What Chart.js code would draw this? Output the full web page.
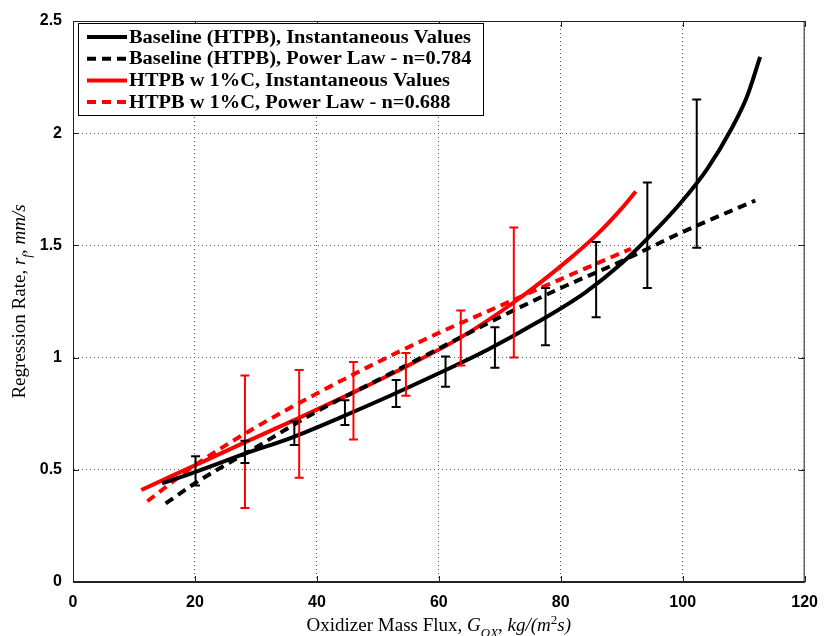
<!DOCTYPE html>
<html>
<head>
<meta charset="utf-8">
<script src="https://cdn.jsdelivr.net/npm/chart.js@4/dist/chart.umd.min.js"></script>
<style>
  html, body { margin: 0; padding: 0; background: #fff; }
  #wrap { width: 829px; height: 636px; position: relative; }
</style>
</head>
<body>
<div id="wrap"><canvas id="rateChart"></canvas></div>
<script>
'use strict';

/* Regression rate vs oxidizer mass flux. */

// baseline HTPB, instantaneous values (solid black)
const baseInstX = [14.6, 20, 28, 36, 44, 52, 60, 68, 76, 84, 90, 96, 100, 104, 108, 110.5, 112.7];
const baseInstY = [0.44, 0.49, 0.57, 0.645, 0.735, 0.83, 0.93, 1.035, 1.155, 1.29, 1.42, 1.58, 1.70, 1.84, 2.02, 2.16, 2.34];

// baseline HTPB, power law fit (dashed black)
const baseFitX = [15.2, 20, 30, 40, 50, 60, 70, 80, 90, 100, 111.9];
const baseFitY = [0.35, 0.44, 0.60, 0.76, 0.90, 1.04, 1.18, 1.31, 1.43, 1.56, 1.70];

// HTPB w 1%C, instantaneous values (solid red)
const carbInstX = [11.2, 20, 28, 37, 46, 55, 63.6, 72.5, 81, 86, 90, 92.3];
const carbInstY = [0.41, 0.52, 0.62, 0.73, 0.845, 0.965, 1.09, 1.25, 1.43, 1.55, 1.665, 1.74];

// HTPB w 1%C, power law fit (dashed red)
const carbFitX = [12.2, 20, 30, 40, 50, 60, 70, 80, 91.5];
const carbFitY = [0.36, 0.52, 0.69, 0.84, 0.98, 1.11, 1.23, 1.35, 1.485];

// error bars
const baseErrX  = [20.1, 28.2, 36.3, 44.6, 53.0, 61.1, 69.2, 77.5, 85.8, 94.2, 102.3];
const baseErrLo = [0.43, 0.53, 0.61, 0.70, 0.78, 0.87, 0.955, 1.055, 1.18, 1.31, 1.49];
const baseErrHi = [0.56, 0.63, 0.715, 0.81, 0.90, 1.005, 1.135, 1.31, 1.515, 1.78, 2.15];

const carbErrX  = [28.2, 37.1, 46.0, 54.6, 63.6, 72.3];
const carbErrLo = [0.33, 0.465, 0.635, 0.83, 0.965, 1.0];
const carbErrHi = [0.92, 0.945, 0.98, 1.02, 1.21, 1.58];

const legendLabels = [
  'Baseline (HTPB), Instantaneous Values',
  'Baseline (HTPB), Power Law - n=0.784',
  'HTPB w 1%C, Instantaneous Values',
  'HTPB w 1%C, Power Law - n=0.688'
];

const RED = '#ff0000';
const BLACK = '#000000';
const SERIF = '"Liberation Serif", "DejaVu Serif", serif';

function pts(xs, ys){ return xs.map((x, i) => ({x: x, y: ys[i]})); }

// each bar = lo point, hi point, gap
function errPts(xs, lo, hi){
  const out = [];
  xs.forEach((x, i) => {
    out.push({x: x, y: lo[i]}, {x: x, y: hi[i]}, {x: x, y: null});
  });
  return out;
}

function curve(label, data, color, dashed){
  return {
    label: label,
    data: data,
    borderColor: color,
    borderWidth: 4,
    borderDash: dashed ? [9, 6] : [],
    pointRadius: 0,
    cubicInterpolationMode: 'monotone',
    fill: false,
    order: 2
  };
}

function errSet(data, color){
  return {
    label: '',
    data: data,
    borderColor: color,
    borderWidth: 2,
    pointStyle: 'line',
    pointRadius: 4.5,
    pointBorderWidth: 2,
    pointBorderColor: color,
    spanGaps: false,
    fill: false,
    order: 1
  };
}

// frame + inward ticks like the original plot
const framePlugin = {
  id: 'frame',
  afterDatasetsDraw(chart){
    const {ctx, chartArea: a, scales} = chart;
    ctx.save();
    ctx.strokeStyle = '#222';
    ctx.lineWidth = 1;
    ctx.setLineDash([]);
    ctx.strokeRect(a.left + 0.5, a.top + 0.5, a.right - a.left - 1, a.bottom - a.top - 1);
    const len = 6;
    ctx.beginPath();
    scales.x.ticks.forEach(t => {
      const px = Math.round(scales.x.getPixelForValue(t.value)) + 0.5;
      ctx.moveTo(px, a.bottom); ctx.lineTo(px, a.bottom - len);
      ctx.moveTo(px, a.top); ctx.lineTo(px, a.top + len);
    });
    scales.y.ticks.forEach(t => {
      const py = Math.round(scales.y.getPixelForValue(t.value)) + 0.5;
      ctx.moveTo(a.left, py); ctx.lineTo(a.left + len, py);
      ctx.moveTo(a.right, py); ctx.lineTo(a.right - len, py);
    });
    ctx.stroke();
    ctx.restore();
  }
};

// legend drawn inside the plot, top-left
const legendPlugin = {
  id: 'insideLegend',
  afterDraw(chart){
    const ctx = chart.ctx;
    const a = chart.chartArea;
    const x0 = a.left + 5, y0 = a.top + 2, w = 405, h = 92;
    ctx.save();
    ctx.fillStyle = '#fff';
    ctx.fillRect(x0, y0, w, h);
    ctx.strokeStyle = BLACK;
    ctx.lineWidth = 1;
    ctx.setLineDash([]);
    ctx.strokeRect(x0 + 0.5, y0 + 0.5, w, h);
    const sets = chart.data.datasets.filter(d => d.label);
    ctx.font = 'bold 18px ' + SERIF;
    ctx.textBaseline = 'middle';
    // the original face is wider than Times; stretch to the same run length
    const stretch = 342 / ctx.measureText(sets[0].label).width;
    sets.forEach((d, i) => {
      const y = y0 + 14 + i * 21.7;
      ctx.strokeStyle = d.borderColor;
      ctx.lineWidth = 4;
      ctx.setLineDash(d.borderDash || []);
      ctx.beginPath();
      ctx.moveTo(x0 + 9, y);
      ctx.lineTo(x0 + 49, y);
      ctx.stroke();
      ctx.fillStyle = BLACK;
      ctx.save();
      ctx.translate(x0 + 51, y + 1);
      ctx.scale(stretch, 1);
      ctx.fillText(d.label, 0, 0);
      ctx.restore();
    });
    ctx.restore();
  }
};

// axis titles with italic / sub / superscript runs
function drawRuns(ctx, runs, size){
  const fontFor = r => (r.it ? 'italic ' : '') + (r.sub || r.sup ? Math.round(size * 0.7) : size) + 'px ' + SERIF;
  let total = 0;
  runs.forEach(r => { ctx.font = fontFor(r); r.w = ctx.measureText(r.t).width; total += r.w; });
  let x = -total / 2;
  runs.forEach(r => {
    ctx.font = fontFor(r);
    const dy = r.sub ? size * 0.3 : (r.sup ? -size * 0.38 : 0);
    ctx.fillText(r.t, x, dy);
    x += r.w;
  });
}

const titlePlugin = {
  id: 'axisTitles',
  afterDraw(chart){
    const ctx = chart.ctx;
    const a = chart.chartArea;
    ctx.save();
    ctx.fillStyle = BLACK;
    ctx.textBaseline = 'alphabetic';
    ctx.textAlign = 'left';
    ctx.translate((a.left + a.right) / 2, 631);
    drawRuns(ctx, [
      {t: 'Oxidizer Mass Flux, '},
      {t: 'G', it: true},
      {t: 'OX', it: true, sub: true},
      {t: ', '},
      {t: 'kg/(m', it: true},
      {t: '2', sup: true},
      {t: 's)', it: true}
    ], 19);
    ctx.restore();

    ctx.save();
    ctx.fillStyle = BLACK;
    ctx.textBaseline = 'alphabetic';
    ctx.textAlign = 'left';
    ctx.translate(25, (a.top + a.bottom) / 2);
    ctx.rotate(-Math.PI / 2);
    drawRuns(ctx, [
      {t: 'Regression Rate, '},
      {t: 'r', it: true},
      {t: 'f', it: true, sub: true},
      {t: ', '},
      {t: 'mm/s', it: true}
    ], 19);
    ctx.restore();
  }
};

const tickFont = {family: '"Liberation Sans", Arial, sans-serif', size: 16, weight: 'bold'};
const gridOpts = {color: '#555', lineWidth: 1, drawTicks: false};

new Chart(document.getElementById('rateChart'), {
  type: 'line',
  data: {
    datasets: [
      errSet(errPts(baseErrX, baseErrLo, baseErrHi), BLACK),
      errSet(errPts(carbErrX, carbErrLo, carbErrHi), RED),
      curve(legendLabels[0], pts(baseInstX, baseInstY), BLACK, false),
      curve(legendLabels[1], pts(baseFitX, baseFitY), BLACK, true),
      curve(legendLabels[2], pts(carbInstX, carbInstY), RED, false),
      curve(legendLabels[3], pts(carbFitX, carbFitY), RED, true)
    ]
  },
  options: {
    responsive: true,
    maintainAspectRatio: false,
    animation: false,
    devicePixelRatio: 1,
    layout: { padding: { top: 21, right: 16, left: 0, bottom: 0 } },
    plugins: {
      legend: { display: false },
      tooltip: { enabled: false }
    },
    scales: {
      x: {
        type: 'linear',
        min: 0, max: 120,
        ticks: { stepSize: 20, font: tickFont, color: BLACK, padding: 11, maxRotation: 0 },
        grid: Object.assign({}, gridOpts),
        border: { display: true, color: '#222', dash: [1, 3] },
        afterFit(s){ s.height = 54; }
      },
      y: {
        type: 'linear',
        min: 0, max: 2.5,
        ticks: { stepSize: 0.5, font: tickFont, color: BLACK, padding: 11, callback: v => String(v) },
        grid: Object.assign({}, gridOpts),
        border: { display: true, color: '#222', dash: [1, 3] },
        afterFit(s){ s.width = 73; }
      }
    }
  },
  plugins: [framePlugin, legendPlugin, titlePlugin]
});
</script>
</body>
</html>
